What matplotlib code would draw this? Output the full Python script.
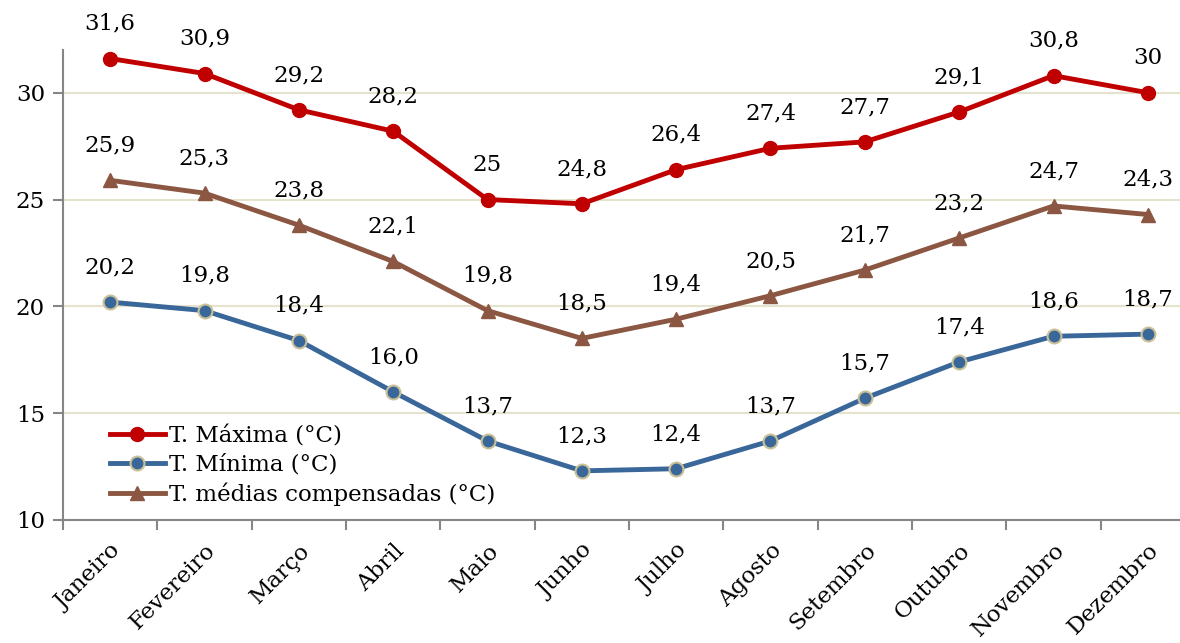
import matplotlib.pyplot as plt

# dados mensais
meses = ['Janeiro', 'Fevereiro', 'Março', 'Abril', 'Maio', 'Junho',
         'Julho', 'Agosto', 'Setembro', 'Outubro', 'Novembro', 'Dezembro']
t_max = [31.6, 30.9, 29.2, 28.2, 25.0, 24.8, 26.4, 27.4, 27.7, 29.1, 30.8, 30.0]
t_min = [20.2, 19.8, 18.4, 16.0, 13.7, 12.3, 12.4, 13.7, 15.7, 17.4, 18.6, 18.7]
t_med = [25.9, 25.3, 23.8, 22.1, 19.8, 18.5, 19.4, 20.5, 21.7, 23.2, 24.7, 24.3]
rot_max = ['31,6', '30,9', '29,2', '28,2', '25', '24,8', '26,4', '27,4', '27,7', '29,1', '30,8', '30']
rot_min = ['20,2', '19,8', '18,4', '16,0', '13,7', '12,3', '12,4', '13,7', '15,7', '17,4', '18,6', '18,7']
rot_med = ['25,9', '25,3', '23,8', '22,1', '19,8', '18,5', '19,4', '20,5', '21,7', '23,2', '24,7', '24,3']

plt.rcParams['font.family'] = ['DejaVu Serif']
fs = 16.5

fig = plt.figure(figsize=(11.8, 6.43), dpi=100)
ax = fig.add_axes([63 / 1180, 1 - 520 / 643, 1132 / 1180, 470 / 643])

x = list(range(len(meses)))
ax.plot(x, t_max, color='#C00000', lw=3.5, marker='o', ms=10, mfc='#C00000', mec='#C00000',
        label='T. Máxima (°C)', zorder=4)
ax.plot(x, t_min, color='#3A679A', lw=3.5, marker='o', ms=10, mfc='#3A679A', mec='#C9C097',
        mew=1.5, label='T. Mínima (°C)', zorder=4)
ax.plot(x, t_med, color='#8B5742', lw=3.5, marker='^', ms=10, mfc='#8B5742', mec='#8B5742',
        label='T. médias compensadas (°C)', zorder=4)

# rótulos dos valores
for serie, rot in [(t_max, rot_max), (t_min, rot_min), (t_med, rot_med)]:
    for xi, v, r in zip(x, serie, rot):
        ax.annotate(r, (xi, v), xytext=(0, 25), textcoords='offset points',
                    ha='center', va='center', fontsize=fs)

ax.set_xlim(-0.5, 11.5)
ax.set_ylim(10, 32)
ax.set_yticks([10, 15, 20, 25, 30])
ax.set_xticks([i - 0.5 for i in range(13)])
ax.set_xticklabels([])
ax.set_xticks(x, minor=True)
ax.set_xticklabels(meses, minor=True, rotation=45, ha='right', va='top',
                   rotation_mode='anchor', fontsize=fs)
ax.tick_params(axis='x', which='minor', length=0, pad=14)
ax.tick_params(axis='x', which='major', length=7, color='#868686', width=1.5)
ax.tick_params(axis='y', length=7, color='#868686', width=1.5, labelsize=fs, pad=6)

ax.grid(axis='y', color='#E5E3CE', lw=1.5)
ax.set_axisbelow(True)
for s in ['top', 'right']:
    ax.spines[s].set_visible(False)
for s in ['left', 'bottom']:
    ax.spines[s].set_color('#868686')
    ax.spines[s].set_linewidth(1.5)

leg = ax.legend(loc='lower left', bbox_to_anchor=(0.027, -0.005), frameon=True, framealpha=1,
                edgecolor='none', fontsize=fs, handlelength=2.4, handletextpad=0.2,
                labelspacing=0.3, borderpad=0.2)
leg.set_zorder(3)

plt.savefig('out.png', dpi=100)
